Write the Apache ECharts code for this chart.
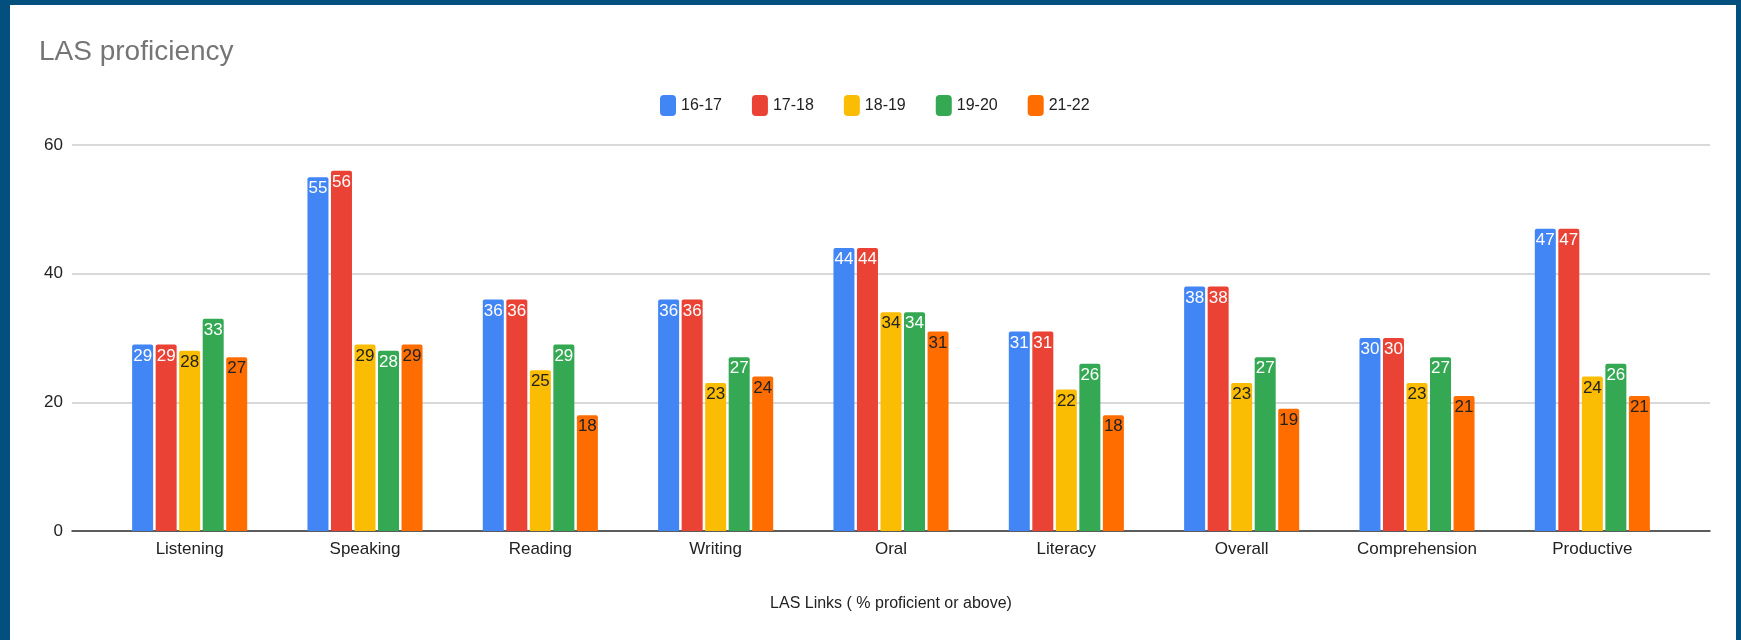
<!DOCTYPE html>
<html>
<head>
<meta charset="utf-8">
<script src="https://cdn.jsdelivr.net/npm/echarts@6/dist/echarts.min.js"></script>
<style>
  html, body { margin: 0; padding: 0; background: #03507f; width: 1741px; height: 640px; overflow: hidden; }
  #chart { position: absolute; left: 10px; top: 5px; width: 1726px; height: 635px; background: #ffffff; }
</style>
</head>
<body>
<div id="chart"></div>
<script>
// LAS proficiency data
var categories = ['Listening', 'Speaking', 'Reading', 'Writing', 'Oral', 'Literacy', 'Overall', 'Comprehension', 'Productive']
var years = ['16-17', '17-18', '18-19', '19-20', '21-22']
var y1617 = [29, 55, 36, 36, 44, 31, 38, 30, 47]
var y1718 = [29, 56, 36, 36, 44, 31, 38, 30, 47]
var y1819 = [28, 29, 25, 23, 34, 22, 23, 23, 24]
var y1920 = [33, 28, 29, 27, 34, 26, 27, 27, 26]
var y2122 = [27, 29, 18, 24, 31, 18, 19, 21, 21]
var yTicks = [0, 20, 40, 60]

var colors = ['#4285F4', '#EA4335', '#FBBC04', '#34A853', '#FF6D01']
var labelColors = ['#ffffff', '#ffffff', '#222222', '#ffffff', '#222222']
var values = [y1617, y1718, y1819, y1920, y2122]

var font = '"Liberation Sans", Arial, sans-serif'

var chart = echarts.init(document.getElementById('chart'))

var series = years.map(function (name, i) {
  return {
    name: name,
    type: 'bar',
    xAxisIndex: 1,
    yAxisIndex: 1,
    data: values[i],
    barWidth: 21,
    barGap: '12%',
    itemStyle: { color: colors[i], borderRadius: [2, 2, 0, 0] },
    label: {
      show: true,
      position: 'insideTop',
      distance: 3,
      color: labelColors[i],
      fontSize: 17,
      fontFamily: font
    }
  }
})

// outer grid holds gridlines + baseline, inner grid holds the bars
var gridTop = 140
var gridBottom = 109

chart.setOption({
  animation: false,
  backgroundColor: '#ffffff',
  textStyle: { fontFamily: font },
  title: {
    text: 'LAS proficiency',
    left: 24,
    top: 28,
    textStyle: { fontSize: 28, fontWeight: 'normal', color: '#757575', fontFamily: font }
  },
  legend: {
    data: years,
    top: 85,
    left: 645,
    itemWidth: 16,
    itemHeight: 21,
    itemGap: 30,
    icon: 'roundRect',
    textStyle: { fontSize: 16, color: '#222222', fontFamily: font }
  },
  grid: [
    { left: 62, right: 26, top: gridTop, bottom: gridBottom },
    { left: 92, right: 56, top: gridTop, bottom: gridBottom }
  ],
  xAxis: [
    {
      type: 'value',
      gridIndex: 0,
      min: 0,
      max: 1,
      axisLine: { show: true, onZero: false, lineStyle: { color: '#333333', width: 1.5 } },
      axisTick: { show: false },
      axisLabel: { show: false },
      splitLine: { show: false }
    },
    {
      type: 'category',
      gridIndex: 1,
      data: categories,
      name: 'LAS Links ( % proficient or above)',
      nameLocation: 'middle',
      nameGap: 65,
      nameTextStyle: { fontSize: 16, color: '#222222', fontFamily: font },
      axisLine: { show: false },
      axisTick: { show: false },
      axisLabel: { fontSize: 17, color: '#222222', margin: 10, fontFamily: font }
    }
  ],
  yAxis: [
    {
      type: 'value',
      gridIndex: 0,
      min: yTicks[0],
      max: yTicks[yTicks.length - 1],
      interval: 20,
      axisLine: { show: false },
      axisTick: { show: false },
      splitLine: { lineStyle: { color: '#cccccc', width: 1.5 } },
      axisLabel: { fontSize: 17, color: '#222222', margin: 9, fontFamily: font }
    },
    {
      type: 'value',
      gridIndex: 1,
      min: yTicks[0],
      max: yTicks[yTicks.length - 1],
      interval: 20,
      show: false,
      splitLine: { show: false }
    }
  ],
  series: series
})
</script>
</body>
</html>
